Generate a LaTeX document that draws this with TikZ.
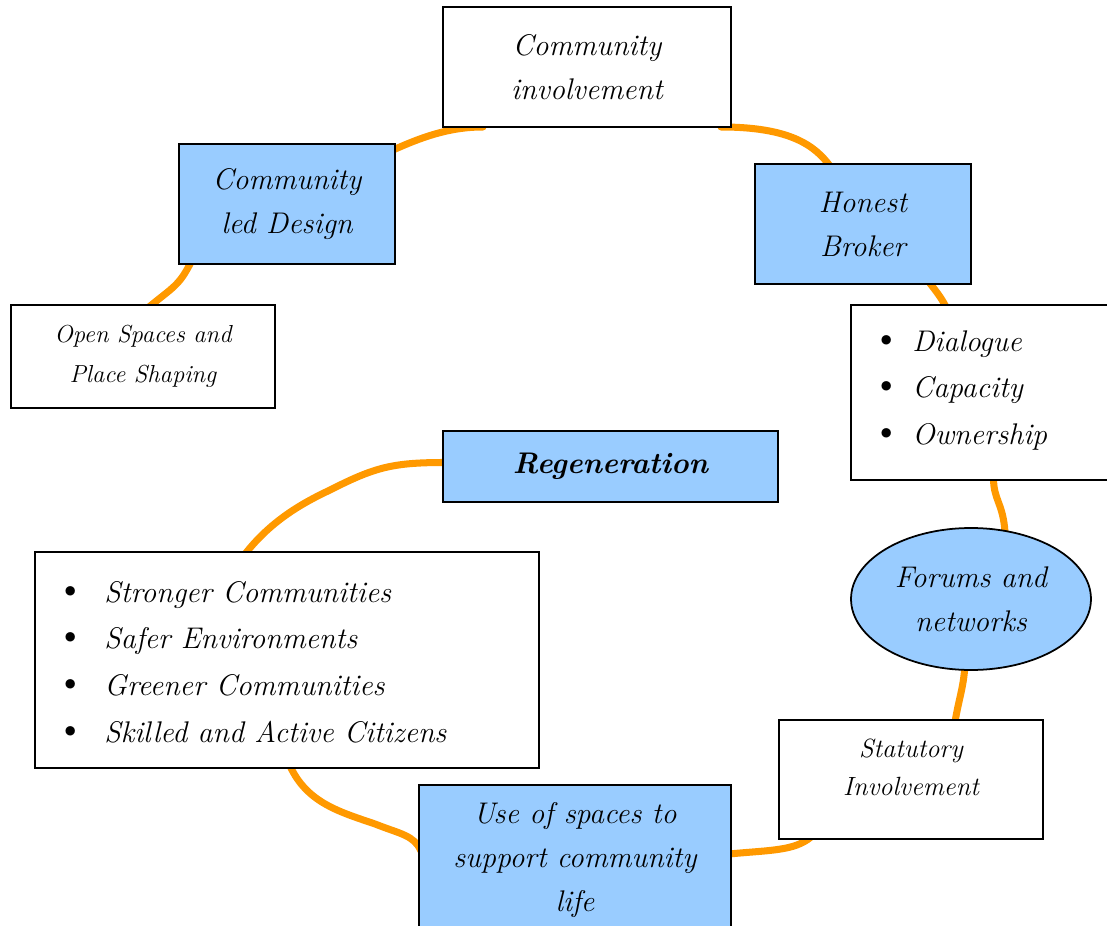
\documentclass[tikz,border=0pt]{standalone}
\usetikzlibrary{calc,shapes.geometric,backgrounds}
\definecolor{boxblue}{HTML}{99CCFF}
\definecolor{linkorange}{HTML}{FF9900}
\newcommand{\bigbul}{{\upshape\fontsize{24}{24}\selectfont\textbullet}}
\tikzset{
  box/.style={draw=black, line width=1pt, rectangle, inner sep=0pt, outer sep=0pt, align=center,
    font=\fontsize{17}{25}\selectfont\itshape},
  blue/.style={fill=boxblue},
  white/.style={fill=white},
  link/.style={draw=linkorange, line width=4pt, line cap=round},
  listtxt/.style={inner sep=0pt, anchor=west, align=left, font=\fontsize{17}{26.6}\selectfont\itshape},
}
\begin{document}
\begin{tikzpicture}[x=0.02cm,y=-0.02cm]
\useasboundingbox (0,0) rectangle (1107,926);
\clip (0,0) rectangle (1107,926);
% boxes
\node[box,white,minimum width=5.76cm,minimum height=2.4cm] (ci) at (587,67) {Community\\involvement};
\node[box,blue,minimum width=4.32cm,minimum height=2.4cm] (cd) at (287,204) {Community\\led Design};
\node[box,blue,minimum width=4.32cm,minimum height=2.4cm] (hb) at (863,224) {Honest\\Broker};
\node[box,white,minimum width=5.28cm,minimum height=2.06cm,font=\fontsize{14}{22.7}\selectfont\itshape] (os) at (143,356.5) {Open Spaces and\\Place Shaping};
\node[box,white,minimum width=5.22cm,minimum height=3.5cm] (dl) at (981.5,392.5) {};
\node[box,blue,minimum width=6.7cm,minimum height=1.42cm,font=\fontsize{17}{25}\selectfont\itshape\bfseries] (rg) at (610.5,466.5) {Regeneration};
\node[box,white,minimum width=10.08cm,minimum height=4.32cm] (bl) at (287,660) {};
\node[box,blue,ellipse,minimum width=4.8cm,minimum height=2.84cm] (fn) at (971,599) {Forums and\\networks};
\node[box,white,minimum width=5.28cm,minimum height=2.38cm] (st) at (911,779.5) {};
\node[box,blue,minimum width=6.24cm,minimum height=3.0cm] (us) at (575,860) {Use of spaces to\\support community\\life};
% texts placed inside boxes
\node[listtxt] (dltxt) at ($(dl.west)+(20,-2)$) {\makebox[0.82cm][l]{\bigbul}Dialogue\\\makebox[0.82cm][l]{\bigbul}Capacity\\\makebox[0.82cm][l]{\bigbul}Ownership};
\node[listtxt] (bltxt) at ($(bl.west)+(20,2)$) {\makebox[0.98cm][l]{\bigbul}Stronger Communities\\\makebox[0.98cm][l]{\bigbul}Safer Environments\\\makebox[0.98cm][l]{\bigbul}Greener Communities\\\makebox[0.98cm][l]{\bigbul}Skilled and Active Citizens};
\node[align=center,inner sep=0pt,font=\fontsize{15}{22}\selectfont\itshape] (sttxt) at ($(st.center)+(0,-12)$) {Statutory\\Involvement};
% connectors
\begin{scope}[on background layer]
\draw[link] ($(cd.north east)+(-2,6)$) .. controls ($(cd.north east)+(25,-6)$) and ($(ci.south west)+(5,0)$) .. ($(ci.south west)+(40,0)$);
\draw[link] ($(ci.south east)+(-10,0)$) .. controls ($(ci.south east)+(60,0)$) and ($(hb.north west)+(60,-18)$) .. ($(hb.north west)+(75,2)$);
\draw[link] ($(cd.south west)+(12,-2)$) .. controls ($(cd.south west)+(0,22)$) and ($(os.north)+(30,-18)$) .. ($(os.north)+(6,2)$);
\draw[link] ($(hb.south east)+(-42,-2)$) .. controls ($(hb.south east)+(-36,6)$) and ($(dl.north west)+(90,-8)$) .. ($(dl.north west)+(95,2)$);
\draw[link] ($(dl.south)+(12,-2)$) .. controls ($(dl.south)+(12,20)$) and ($(fn.north)+(32,-25)$) .. ($(fn.north)+(34,4)$);
\draw[link] ($(fn.south)+(-6,-4)$) .. controls ($(fn.south)+(-8,20)$) and ($(st.north)+(48,-22)$) .. ($(st.north)+(44,2)$);
\draw[link] ($(st.south west)+(32,-2)$) .. controls ($(st.south west)+(15,12)$) and ($(us.east)+(40,-10)$) .. ($(us.east)+(-2,-6)$);
\draw[link] ($(bl.south west)+(255,-2)$) .. controls ($(bl.south west)+(272,35)$) and ($(bl.south west)+(305,44)$) .. ($(bl.south west)+(340,56)$) .. controls ($(bl.south west)+(365,66)$) and ($(us.north west)+(-5,50)$) .. ($(us.north west)+(2,66)$);
\draw[link] ($(bl.north west)+(210,2)$) .. controls ($(bl.north west)+(235,-30)$) and ($(bl.north west)+(265,-48)$) .. ($(bl.north west)+(295,-62)$) .. controls ($(bl.north west)+(340,-85)$) and ($(rg.west)+(-50,-4)$) .. ($(rg.west)+(2,-4)$);
\end{scope}
\end{tikzpicture}
\end{document}
